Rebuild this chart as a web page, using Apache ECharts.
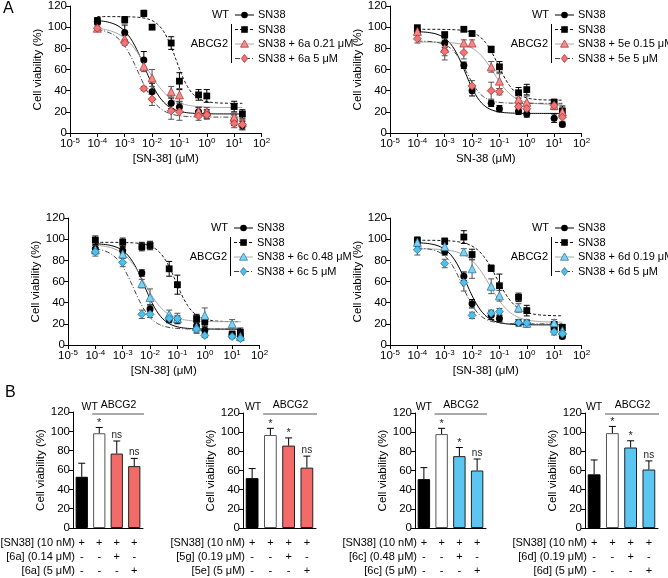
<!DOCTYPE html>
<html><head><meta charset="utf-8">
<script src="https://cdn.jsdelivr.net/npm/echarts@6/dist/echarts.min.js"></script>
<style>html,body{margin:0;padding:0;background:#fff}#c{width:668px;height:578px}</style>
</head><body><div id="c"></div>
<script>
// ---------------- DATA ----------------
const conc = [0.0001, 0.001, 0.005, 0.01, 0.05, 0.1, 0.5, 1, 10, 20];

// Panel A1 (6a)
const a1WT = [105, 95, 69, 39, 28, 24.5, 20, 18, 12, 7];
const a1WTErr = [2, 7, 8, 8, 5, 5, 4, 4, 5, 4];
const a1AB = [106, 107, 113, 100, 85, 49, 36, 35, 25, 18];
const a1ABErr = [3, 3, 3, 2, 6, 8, 5, 6, 5, 4];
const a1Lo = [99, 89, 63, 52, 39, 36, 20.5, 20, 15, 10];
const a1LoErr = [3, 3, 5, 8, 5, 6, 4, 4, 4, 3];
const a1Hi = [99, 85, 42, 32, 21, 20, 16, 17, 9, 8];
const a1HiErr = [2, 2, 2, 6, 8, 8, 4, 4, 4, 4];
// fits: [top, bottom, logIC50, hill]
const a1WTFit = [107, 18, -2.28, 1.2];
const a1ABFit = [110, 28, -1.12, 1.5];
const a1LoFit = [100, 24, -2.2, 1.0];
const a1HiFit = [99, 15, -2.5, 1.2];
const a1Labels = ['SN38', 'SN38', 'SN38 + 6a 0.21 μM', 'SN38 + 6a 5 μM'];

// Panel A2 (5e)
const a2WT = [96, 85, 64, 40, 28, 23, 20.5, 18, 14, 8];
const a2WTErr = [2, 4, 3, 5, 3, 3, 3, 3, 4, 2];
const a2AB = [99.5, 93, 98, 94, 79, 62.5, 38, 41, 29, 20.5];
const a2ABErr = [2, 2, 2, 2, 3, 5, 5, 5, 3, 5];
const a2Lo = [96, 80, 85, 85, 62.5, 49, 32, 29, 26, 20];
const a2LoErr = [3, 7, 3, 3, 5, 7, 5, 6, 4, 4];
const a2Hi = [89, 77, 76, 44.5, 40, 39, 25, 23, 26, 15];
const a2HiErr = [4, 8, 6, 5, 8, 3, 4, 4, 3, 4];
const a2WTFit = [96, 18.5, -2.25, 1.4];
const a2ABFit = [98, 31, -1.05, 1.4];
const a2LoFit = [86, 27, -1.2, 1.2];
const a2HiFit = [87, 28, -2.2, 1.5];
const a2Labels = ['SN38', 'SN38', 'SN38 + 5e 0.15 μM', 'SN38 + 5e 5 μM'];

// Panel A3 (6c)
const a3WT = [91, 89, 68, 34, 24, 23.5, 18, 14, 10, 9];
const a3WTErr = [3, 3, 3, 4, 3, 3, 3, 3, 3, 3];
const a3AB = [99, 97, 93, 94, 72, 57, 25, 22, 10, 12];
const a3ABErr = [4, 4, 4, 4, 7, 9, 4, 4, 3, 4];
const a3Lo = [90, 86, 58, 45, 29, 25, 17, 28, 20, 8];
const a3LoErr = [4, 4, 4, 8, 4, 5, 5, 7, 4, 3];
const a3Hi = [88, 78, 29, 29, 25, 25, 15, 9, 8, 6];
const a3HiErr = [4, 4, 4, 3, 3, 3, 4, 2, 2, 2];
const a3WTFit = [96, 15, -2.2, 1.3];
const a3ABFit = [97, 22, -1.05, 1.4];
const a3LoFit = [95, 22, -2.2, 1.1];
const a3HiFit = [92, 15, -2.6, 1.3];
const a3Labels = ['SN38', 'SN38', 'SN38 + 6c 0.48 μM', 'SN38 + 6c 5 μM'];

// Panel A4 (6d)
const a4WT = [96, 88, 65, 39, 28, 25, 21, 20, 15, 8];
const a4WTErr = [3, 3, 4, 4, 4, 3, 3, 3, 3, 2];
const a4AB = [99, 98, 102, 85.5, 72.5, 56, 45, 32.5, 19, 16.5];
const a4ABErr = [3, 3, 6, 5, 3, 11, 4, 5, 3, 3];
const a4Lo = [97, 93, 88, 72, 55.5, 46.5, 35, 20.5, 21, 13.5];
const a4LoErr = [3, 3, 3, 9, 7, 5, 4, 3, 3, 3];
const a4Hi = [90, 77, 59, 28, 30, 31.5, 21, 21, 12.5, 10.5];
const a4HiErr = [5, 4, 8, 3, 3, 3, 3, 3, 3, 3];
const a4WTFit = [97, 19, -2.2, 1.3];
const a4ABFit = [99, 27.5, -1.1, 1.2];
const a4LoFit = [91, 21.5, -1.35, 1.1];
const a4HiFit = [92, 20, -2.35, 1.4];
const a4Labels = ['SN38', 'SN38', 'SN38 + 6d 0.19 μM', 'SN38 + 6d 5 μM'];

const xTitles = ['[SN-38] (μM)', 'SN-38 (μM)', '[SN-38] (μM)', '[SN-38] (μM)'];

// Panel B
const barCategories = ['WT SN38', 'ABCG2 SN38', 'ABCG2 SN38 + low', 'ABCG2 SN38 + high'];
const sn38Signs = ['+', '+', '+', '+'];
const lowSigns = ['-', '-', '+', '-'];
const highSigns = ['-', '-', '-', '+'];
const b1Values = [53, 98, 77, 64];
const b1Err = [14, 6, 13, 8];
const b1Stats = ['', '*', 'ns', 'ns'];
const b1Rows = ['[SN38] (10 nM)', '[6a] (0.14 μM)', '[6a] (5 μM)'];
const b2Values = [52, 97, 86, 63];
const b2Err = [10, 7, 8, 12];
const b2Stats = ['', '*', '*', 'ns'];
const b2Rows = ['[SN38] (10 nM)', '[5g] (0.19 μM)', '[5e] (5 μM)'];
const b3Values = [51, 98, 75, 60];
const b3Err = [12, 6, 9, 12];
const b3Stats = ['', '*', '*', 'ns'];
const b3Rows = ['[SN38] (10 nM)', '[6c] (0.48 μM)', '[6c] (5 μM)'];
const b4Values = [56, 99, 84, 61];
const b4Err = [15, 7, 7, 9];
const b4Stats = ['', '*', '*', 'ns'];
const b4Rows = ['[SN38] (10 nM)', '[6d] (0.19 μM)', '[6d] (5 μM)'];

// ---------------- STYLE / LAYOUT ----------------
const FONT = '"Liberation Sans", Arial, Helvetica, sans-serif';
const RED = '#f36b69', BLUE = '#5cc6f2';
const panelsA = [
  {grid: {left: 70, top: 6, width: 191.5, height: 127}, d: [a1WT, a1AB, a1Lo, a1Hi], e: [a1WTErr, a1ABErr, a1LoErr, a1HiErr], f: [a1WTFit, a1ABFit, a1LoFit, a1HiFit], labels: a1Labels, tone: 'red', lg: {xr: 229, y0: 15}},
  {grid: {left: 390, top: 6, width: 191.5, height: 127}, d: [a2WT, a2AB, a2Lo, a2Hi], e: [a2WTErr, a2ABErr, a2LoErr, a2HiErr], f: [a2WTFit, a2ABFit, a2LoFit, a2HiFit], labels: a2Labels, tone: 'red', lg: {xr: 549, y0: 15}},
  {grid: {left: 68, top: 218, width: 191.5, height: 127}, d: [a3WT, a3AB, a3Lo, a3Hi], e: [a3WTErr, a3ABErr, a3LoErr, a3HiErr], f: [a3WTFit, a3ABFit, a3LoFit, a3HiFit], labels: a3Labels, tone: 'blue', lg: {xr: 228, y0: 228}},
  {grid: {left: 390, top: 218, width: 191.5, height: 127}, d: [a4WT, a4AB, a4Lo, a4Hi], e: [a4WTErr, a4ABErr, a4LoErr, a4HiErr], f: [a4WTFit, a4ABFit, a4LoFit, a4HiFit], labels: a4Labels, tone: 'blue', lg: {xr: 549, y0: 228}},
];
const panelsB = [
  {grid: {left: 73, top: 412, width: 70, height: 117}, v: b1Values, e: b1Err, s: b1Stats, rows: b1Rows, color: RED, wtDx: 8},
  {grid: {left: 243, top: 413, width: 73, height: 116}, v: b2Values, e: b2Err, s: b2Stats, rows: b2Rows, color: RED, wtDx: 1},
  {grid: {left: 415, top: 413, width: 71, height: 116}, v: b3Values, e: b3Err, s: b3Stats, rows: b3Rows, color: BLUE, wtDx: 0},
  {grid: {left: 585, top: 413, width: 73, height: 116}, v: b4Values, e: b4Err, s: b4Stats, rows: b4Rows, color: BLUE, wtDx: 0},
];

function seriesStyles(tone) {
  const red = tone === 'red';
  return [
    {symbol: 'circle', size: 7, fill: '#000', stroke: '#000', line: {color: '#000', type: 'solid', width: 1}, err: '#000'},
    {symbol: 'rect', size: 6.8, fill: '#000', stroke: '#000', line: {color: '#111', type: [3, 2], width: 1}, err: '#000'},
    {symbol: 'triangle', size: 8, fill: red ? '#f58a8a' : '#7fd2f4', stroke: red ? '#b23b3b' : '#2a7ea6', line: {color: '#a8a8a8', type: 'solid', width: 1}, err: '#555'},
    {symbol: 'diamond', size: 8, fill: red ? '#f07474' : '#4fc0ec', stroke: red ? '#a83232' : '#24739a', line: {color: '#444', type: [5, 2, 1, 2], width: 1}, err: '#555'},
  ];
}

function fitCurve(p) {
  const [top, bottom, logIC50, hill] = p;
  const pts = [];
  const lo = -4, hi = Math.log10(20), n = 140;
  for (let k = 0; k <= n; k++) {
    const lx = lo + (hi - lo) * k / n;
    pts.push([Math.pow(10, lx), bottom + (top - bottom) / (1 + Math.pow(10, (lx - logIC50) * hill))]);
  }
  return pts;
}

const grids = [], xAxes = [], yAxes = [], series = [], graphics = [];
const axisCommon = {
  axisLine: {show: true, onZero: false, lineStyle: {color: '#000', width: 1}},
  axisTick: {show: true, length: 4, lineStyle: {color: '#000', width: 1}},
  splitLine: {show: false},
};
const yTitleStyle = {fontFamily: FONT, fontSize: 11.5, color: '#000'};

panelsA.forEach((P, gi) => {
  grids.push(Object.assign({containLabel: false}, P.grid));
  xAxes.push(Object.assign({}, axisCommon, {
    type: 'log', logBase: 10, gridIndex: gi, min: 0.00001, max: 100,
    minorTick: {show: false}, minorSplitLine: {show: false},
    axisLabel: {
      margin: 4,
      formatter: v => '{b|10}{s|' + Math.round(Math.log10(v)) + '}',
      rich: {
        b: {fontFamily: FONT, fontSize: 11.5, color: '#000'},
        s: {fontFamily: FONT, fontSize: 8, color: '#000', verticalAlign: 'top', padding: [0, 0, 5, 0]}
      }
    },
    name: xTitles[gi], nameLocation: 'middle', nameGap: 20,
    nameTextStyle: {fontFamily: FONT, fontSize: 11.5, color: '#000'}
  }));
  yAxes.push(Object.assign({}, axisCommon, {
    type: 'value', gridIndex: gi, min: 0, max: 120, interval: 20,
    axisLabel: {margin: 3, fontFamily: FONT, fontSize: 11.5, color: '#000'},
    name: 'Cell viability (%)', nameLocation: 'middle', nameGap: 26, nameRotate: 90,
    nameTextStyle: yTitleStyle
  }));
  const st = seriesStyles(P.tone);
  // curves
  P.f.forEach((fp, si) => {
    series.push({
      type: 'line', xAxisIndex: gi, yAxisIndex: gi, data: fitCurve(fp), showSymbol: false,
      symbol: 'none', lineStyle: st[si].line, z: 2, silent: true, clip: false
    });
  });
  // error bars
  P.d.forEach((vals, si) => {
    const errs = P.e[si];
    const col = st[si].err;
    series.push({
      type: 'custom', xAxisIndex: gi, yAxisIndex: gi, z: 3, silent: true,
      data: conc.map((c, i) => [c, vals[i], errs[i]]),
      renderItem: (params, api) => {
        const x = api.value(0), y = api.value(1), e = api.value(2);
        const hi = api.coord([x, y + e]), lo = api.coord([x, Math.max(0.3, y - e)]);
        const w = 3;
        const ls = {stroke: col, lineWidth: 1};
        return {type: 'group', children: [
          {type: 'line', shape: {x1: hi[0], y1: hi[1], x2: lo[0], y2: lo[1]}, style: ls},
          {type: 'line', shape: {x1: hi[0] - w, y1: hi[1], x2: hi[0] + w, y2: hi[1]}, style: ls},
          {type: 'line', shape: {x1: lo[0] - w, y1: lo[1], x2: lo[0] + w, y2: lo[1]}, style: ls},
        ]};
      }
    });
  });
  // points
  P.d.forEach((vals, si) => {
    series.push({
      type: 'scatter', xAxisIndex: gi, yAxisIndex: gi, z: 4,
      symbol: st[si].symbol, symbolSize: st[si].size,
      itemStyle: {color: st[si].fill, borderColor: st[si].stroke, borderWidth: si >= 2 ? 0.8 : 0, opacity: 1},
      data: conc.map((c, i) => [c, vals[i]])
    });
  });
  // legend (graphic)
  const {xr, y0} = P.lg;
  const rowsY = [y0, y0 + 14.5, y0 + 29, y0 + 43.5];
  const tstyle = (txt, x, y, align) => ({type: 'text', x, y, style: {text: txt, fontFamily: FONT, fontSize: 11, fill: '#000', align, verticalAlign: 'middle'}});
  graphics.push(tstyle('WT', xr, rowsY[0], 'right'));
  graphics.push(tstyle('ABCG2', xr - 1, rowsY[2], 'right'));
  graphics.push({type: 'line', shape: {x1: xr + 2.5, y1: y0 + 9, x2: xr + 2.5, y2: y0 + 48}, style: {stroke: '#000', lineWidth: 1}});
  rowsY.forEach((ry, si) => {
    const s = st[si];
    graphics.push({type: 'line', shape: {x1: xr + 6, y1: ry, x2: xr + 25, y2: ry}, style: {stroke: s.line.color, lineWidth: 1, lineDash: s.line.type === 'solid' ? null : s.line.type}});
    const cx = xr + 15.5, r = s.size / 2;
    let shape;
    if (si === 0) shape = {type: 'circle', shape: {cx, cy: ry, r: 3.3}, style: {fill: s.fill}};
    else if (si === 1) shape = {type: 'rect', shape: {x: cx - 3.3, y: ry - 3.3, width: 6.6, height: 6.6}, style: {fill: s.fill}};
    else if (si === 2) shape = {type: 'polygon', shape: {points: [[cx, ry - r], [cx + r, ry + r * 0.8], [cx - r, ry + r * 0.8]]}, style: {fill: s.fill, stroke: s.stroke, lineWidth: 0.8}};
    else shape = {type: 'polygon', shape: {points: [[cx, ry - r], [cx + r * 0.8, ry], [cx, ry + r], [cx - r * 0.8, ry]]}, style: {fill: s.fill, stroke: s.stroke, lineWidth: 0.8}};
    graphics.push(shape);
    graphics.push(tstyle(P.labels[si], xr + 29, ry, 'left'));
  });
});

panelsB.forEach((P, bi) => {
  const gi = 4 + bi;
  grids.push(Object.assign({containLabel: false}, P.grid));
  xAxes.push({
    type: 'category', gridIndex: gi, data: barCategories,
    axisLine: {show: true, lineStyle: {color: '#000', width: 1}},
    axisTick: {show: false}, splitLine: {show: false},
    axisLabel: {
      margin: 8, interval: 0, fontFamily: FONT, fontSize: 11, color: '#000', lineHeight: 14,
      formatter: (val, idx) => sn38Signs[idx] + '\n' + lowSigns[idx] + '\n' + highSigns[idx]
    }
  });
  yAxes.push(Object.assign({}, axisCommon, {
    type: 'value', gridIndex: gi, min: 0, max: 120, interval: 20,
    axisLabel: {margin: 3, fontFamily: FONT, fontSize: 11.5, color: '#000'},
    name: 'Cell viability (%)', nameLocation: 'middle', nameGap: 26, nameRotate: 90,
    nameTextStyle: yTitleStyle
  }));
  const fills = ['#000', '#fff', P.color, P.color];
  const borders = ['#000', '#555', '#222', '#222'];
  series.push({
    type: 'bar', xAxisIndex: gi, yAxisIndex: gi, barWidth: '70%', z: 2,
    data: P.v.map((v, i) => ({value: v, itemStyle: {color: fills[i], borderColor: borders[i], borderWidth: 1}}))
  });
  const stats = P.s;
  series.push({
    type: 'custom', xAxisIndex: gi, yAxisIndex: gi, z: 3, silent: true,
    data: P.v.map((v, i) => [i, v, P.e[i]]),
    renderItem: (params, api) => {
      const i = api.value(0), v = api.value(1), e = api.value(2);
      const top = api.coord([i, v + e]), base = api.coord([i, v]);
      const ls = {stroke: '#000', lineWidth: 1};
      const ch = [
        {type: 'line', shape: {x1: top[0], y1: top[1], x2: base[0], y2: base[1]}, style: ls},
        {type: 'line', shape: {x1: top[0] - 3.5, y1: top[1], x2: top[0] + 3.5, y2: top[1]}, style: ls},
      ];
      const s = stats[params.dataIndex];
      if (s) ch.push({type: 'text', x: top[0], y: top[1] - (s === '*' ? -1 : 1), style: {text: s, fontFamily: FONT, fontSize: s === '*' ? 11 : 10, fill: '#222', align: 'center', verticalAlign: 'bottom'}});
      return {type: 'group', children: ch};
    }
  });
  // annotations
  const g = P.grid;
  const band = g.width / 4;
  graphics.push({type: 'text', x: g.left + band * 0.5 + P.wtDx, y: 407, style: {text: 'WT', fontFamily: FONT, fontSize: 10.5, fill: '#000', align: 'center', verticalAlign: 'middle'}});
  graphics.push({type: 'text', x: g.left + band * 2.6, y: 405, style: {text: 'ABCG2', fontFamily: FONT, fontSize: 10.5, fill: '#000', align: 'center', verticalAlign: 'middle'}});
  graphics.push({type: 'line', shape: {x1: g.left + band * 1.1, y1: 414, x2: g.left + g.width + 1, y2: 414}, style: {stroke: '#555', lineWidth: 1}});
  P.rows.forEach((r, k) => {
    graphics.push({type: 'text', x: g.left + 2, y: 543 + k * 14, style: {text: r, fontFamily: FONT, fontSize: 11, fill: '#000', align: 'right', verticalAlign: 'middle'}});
  });
});

graphics.push({type: 'text', x: 3, y: 9, style: {text: 'A', fontFamily: FONT, fontSize: 16, fill: '#000', verticalAlign: 'middle'}});
graphics.push({type: 'text', x: 5, y: 393, style: {text: 'B', fontFamily: FONT, fontSize: 16, fill: '#000', verticalAlign: 'middle'}});

const chart = echarts.init(document.getElementById('c'), null, {renderer: 'canvas'});
chart.setOption({
  animation: false,
  backgroundColor: '#fff',
  textStyle: {fontFamily: FONT},
  grid: grids, xAxis: xAxes, yAxis: yAxes, series: series,
  graphic: {elements: graphics}
});
</script></body></html>
